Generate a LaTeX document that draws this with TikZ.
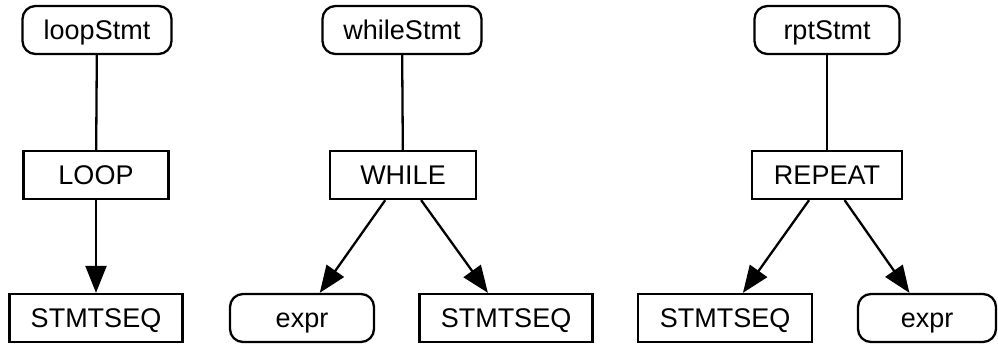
\documentclass[tikz,border=0pt]{standalone}
\usepackage{fontspec}
\setmainfont{Liberation Sans}
\usetikzlibrary{arrows.meta}
\begin{document}
\begin{tikzpicture}[x=1pt,y=-1pt,
  base/.style={draw=black,line width=2.3pt,inner sep=0pt,minimum height=48pt,text height=19pt,text depth=0pt,font=\fontsize{27}{30}\selectfont},
  rbox/.style={base,rounded corners=13pt},
  sbox/.style={base},
  edge/.style={line width=2.3pt},
  arr/.style={line width=2.3pt,-{Triangle[length=27pt,width=21pt]}}]
\useasboundingbox (0,0) rectangle (998,347);
% loop
\node[rbox,minimum width=149pt] (loopStmt) at (97,30) {loopStmt};
\node[sbox,minimum width=145pt] (loop) at (96,175) {LOOP};
\node[sbox,minimum width=173pt] (seq1) at (96,318) {STMTSEQ};
% while
\node[rbox,minimum width=159pt] (whileStmt) at (402,30) {whileStmt};
\node[sbox,minimum width=146pt] (while) at (403,175) {WHILE};
\node[rbox,minimum width=144pt] (expr1) at (302,318) {expr};
\node[sbox,minimum width=173pt] (seq2) at (506,318) {STMTSEQ};
% repeat
\node[rbox,minimum width=145pt] (rptStmt) at (827,30) {rptStmt};
\node[sbox,minimum width=150pt] (repeat) at (827,175) {REPEAT};
\node[sbox,minimum width=174pt] (seq3) at (725,318) {STMTSEQ};
\node[rbox,minimum width=138pt] (expr2) at (927,318) {expr};
% edges
\draw[edge] (loopStmt) -- (loop);
\draw[arr] (loop) -- (seq1);
\draw[edge] (whileStmt) -- (while);
\draw[arr] (while) -- (expr1);
\draw[arr] (while) -- (seq2);
\draw[edge] (rptStmt) -- (repeat);
\draw[arr] (repeat) -- (seq3);
\draw[arr] (repeat) -- (expr2);
\end{tikzpicture}
\end{document}
